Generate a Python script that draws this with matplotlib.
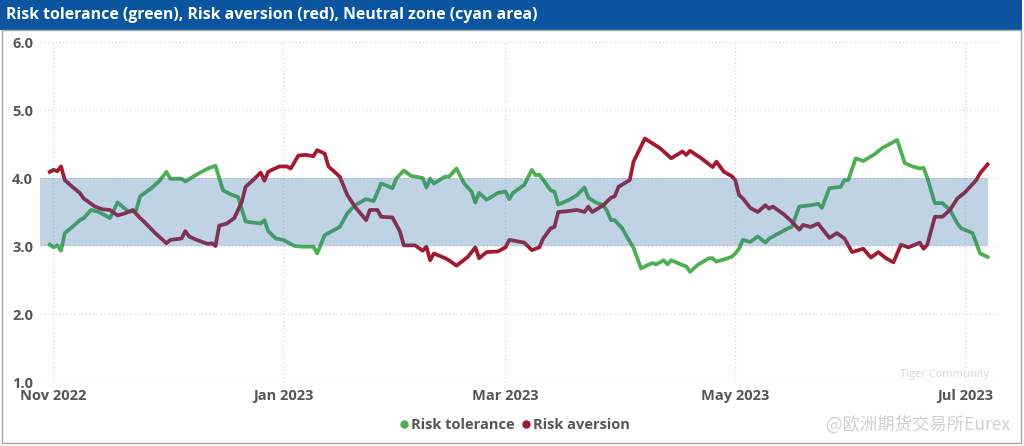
import numpy as np
import pandas as pd
import matplotlib
matplotlib.use('Agg')
import matplotlib.pyplot as plt
import matplotlib.dates as mdates
from matplotlib.patches import Rectangle
from matplotlib.lines import Line2D

# values; x given as days since 2022-11-01
base = pd.Timestamp('2022-11-01')

tol_days = [-1, 0, 1, 2, 3, 5, 7, 8, 10, 12, 15, 17, 20, 22, 23, 26, 28, 30, 31, 34,
            35, 38, 41, 43, 45, 47, 49, 51, 55, 56, 57, 59, 61, 64, 66, 69, 70, 72, 74, 76,
            78, 80, 83, 85, 87, 90, 91, 93, 95, 98, 99, 100, 101, 104, 105, 107, 109, 111, 112, 113,
            115, 118, 120, 121, 122, 125, 127, 128, 129, 132, 133, 134, 137, 139, 141, 142, 144, 146, 147, 148,
            149, 151, 152, 154, 156, 157, 159, 160, 162, 163, 164, 167, 168, 169, 171, 174, 175, 176, 179, 180,
            181, 182, 183, 185, 187, 189, 190, 192, 195, 196, 198, 201, 203, 204, 206, 209, 210, 211, 213, 215,
            218, 220, 224, 226, 228, 230, 231, 232, 234, 236, 238, 240, 241, 244, 245, 246, 248]
tol_vals = [3.02, 2.98, 3.01, 2.93, 3.19, 3.28, 3.38, 3.41, 3.53, 3.50, 3.41, 3.64, 3.50, 3.53, 3.73, 3.85, 3.95, 4.09, 3.99, 3.99,
            3.95, 4.05, 4.14, 4.18, 3.82, 3.76, 3.72, 3.36, 3.33, 3.38, 3.22, 3.11, 3.09, 3.00, 2.99, 2.99, 2.89, 3.16, 3.22, 3.28,
            3.48, 3.60, 3.69, 3.66, 3.92, 3.85, 3.99, 4.11, 4.03, 4.00, 3.86, 3.99, 3.92, 4.02, 4.02, 4.14, 3.92, 3.80, 3.64, 3.78,
            3.68, 3.78, 3.80, 3.69, 3.78, 3.90, 4.12, 4.04, 4.05, 3.82, 3.80, 3.61, 3.68, 3.75, 3.86, 3.71, 3.64, 3.60, 3.51, 3.38,
            3.38, 3.26, 3.16, 2.97, 2.67, 2.70, 2.75, 2.73, 2.79, 2.73, 2.79, 2.72, 2.70, 2.62, 2.72, 2.82, 2.82, 2.77, 2.82, 2.84,
            2.89, 2.96, 3.09, 3.06, 3.14, 3.05, 3.11, 3.17, 3.26, 3.28, 3.58, 3.60, 3.62, 3.56, 3.85, 3.87, 3.97, 3.97, 4.29, 4.25,
            4.35, 4.44, 4.56, 4.22, 4.17, 4.14, 4.15, 4.00, 3.63, 3.63, 3.53, 3.33, 3.26, 3.19, 3.04, 2.89, 2.84]

ave_days = [-1, 0, 1, 2, 3, 5, 7, 8, 11, 13, 15, 17, 19, 21, 23, 24, 27, 30, 31, 34,
            35, 36, 38, 41, 42, 43, 44, 46, 48, 50, 51, 53, 55, 56, 57, 58, 60, 62, 63, 65,
            67, 69, 70, 72, 73, 76, 78, 80, 83, 84, 86, 87, 90, 92, 93, 96, 98, 99, 100, 101,
            104, 105, 107, 110, 112, 113, 115, 118, 120, 121, 125, 127, 129, 130, 132, 133, 134, 136, 139, 141,
            142, 143, 146, 148, 149, 150, 153, 154, 157, 159, 161, 164, 167, 168, 169, 172, 175, 176, 178, 180,
            181, 182, 183, 185, 187, 189, 190, 191, 194, 196, 198, 199, 201, 203, 206, 208, 210, 212, 215, 217,
            219, 221, 223, 225, 227, 230, 231, 232, 234, 236, 238, 240, 242, 243, 245, 246, 248]
ave_vals = [4.09, 4.12, 4.10, 4.17, 3.97, 3.87, 3.78, 3.70, 3.58, 3.54, 3.53, 3.45, 3.48, 3.53, 3.41, 3.36, 3.19, 3.04, 3.09, 3.11,
            3.22, 3.14, 3.09, 3.03, 3.04, 3.00, 3.30, 3.33, 3.41, 3.65, 3.87, 3.97, 4.08, 3.96, 4.09, 4.12, 4.17, 4.17, 4.14, 4.33,
            4.34, 4.32, 4.41, 4.36, 4.17, 4.02, 3.75, 3.58, 3.38, 3.53, 3.53, 3.43, 3.42, 3.21, 3.01, 3.01, 2.93, 2.99, 2.79, 2.89,
            2.82, 2.79, 2.71, 2.84, 2.98, 2.82, 2.91, 2.92, 2.98, 3.09, 3.05, 2.94, 2.98, 3.11, 3.26, 3.28, 3.50, 3.51, 3.53, 3.50,
            3.58, 3.50, 3.60, 3.71, 3.73, 3.87, 3.97, 4.24, 4.58, 4.51, 4.44, 4.29, 4.39, 4.34, 4.40, 4.29, 4.16, 4.24, 4.09, 4.03,
            3.97, 3.75, 3.70, 3.56, 3.50, 3.60, 3.55, 3.58, 3.46, 3.36, 3.24, 3.31, 3.28, 3.33, 3.12, 3.19, 3.11, 2.91, 2.96, 2.83,
            2.91, 2.82, 2.76, 3.02, 2.98, 3.05, 2.96, 3.02, 3.43, 3.43, 3.53, 3.70, 3.79, 3.85, 3.97, 4.07, 4.20]

neutral_low = 3.0
neutral_high = 4.0
band_start = pd.Timestamp('2022-10-28 10:00')

tol_dates = base + pd.to_timedelta(tol_days, unit='D')
ave_dates = base + pd.to_timedelta(ave_days, unit='D')

green = '#4caf50'
red = '#a3192e'
gray = '#555555'

fig = plt.figure(figsize=(10.24, 4.46), dpi=100)
W, H = 1024, 446

# title bar + frame
fig.add_artist(Rectangle((0, 1 - 30 / H), 1022 / W, 30 / H, transform=fig.transFigure,
                         facecolor='#0b55a0', edgecolor='none'))
fig.add_artist(Rectangle((2 / W, 3 / H), 1019 / W, (443 - 30) / H, transform=fig.transFigure,
                         facecolor='none', edgecolor='#a8a8a8', lw=1))
fig.text(6 / W, 1 - 15 / H, 'Risk tolerance (green), Risk aversion (red), Neutral zone (cyan area)',
         color='white', fontsize=11.4, fontweight='bold', family='Open Sans', va='center', ha='left')

ax = fig.add_axes([40 / W, 1 - 382 / H, 960 / W, 340 / H])
ax.plot(tol_dates, tol_vals, color=green, lw=2.7, solid_joinstyle='round', zorder=2)
ax.plot(ave_dates, ave_vals, color=red, lw=2.7, solid_joinstyle='round', zorder=2)

# neutral zone drawn over the lines (semi transparent)
band_end = max(tol_dates[-1], ave_dates[-1])
ax.fill_between([band_start, band_end], neutral_low, neutral_high,
                color='#2f6ea8', alpha=0.3, lw=0, zorder=3)

ax.set_ylim(1, 6)
ax.set_yticks([1, 2, 3, 4, 5, 6])
ax.yaxis.set_major_formatter(plt.FormatStrFormatter('%.1f'))
ax.set_xlim(pd.Timestamp('2022-10-28 10:00'), pd.Timestamp('2023-07-10 07:00'))
ax.xaxis.set_major_locator(mdates.MonthLocator(bymonth=[1, 3, 5, 7, 11]))
ax.xaxis.set_major_formatter(mdates.DateFormatter('%b %Y'))

ax.grid(True, color='#d8d8d8', ls=(0, (1, 2)), lw=0.9, zorder=1)
for s in ax.spines.values():
    s.set_visible(False)
ax.tick_params(axis='both', length=0, labelcolor=gray)
ax.tick_params(axis='y', pad=20)
ax.tick_params(axis='x', pad=5)
for lbl in ax.get_yticklabels():
    lbl.set_horizontalalignment('left')
    lbl.set_fontsize(10.5)
    lbl.set_fontweight('bold')
    lbl.set_family('Open Sans')
for lbl in ax.get_xticklabels():
    lbl.set_fontsize(10.5)
    lbl.set_fontweight('bold')
    lbl.set_family('Open Sans')

handles = [Line2D([], [], marker='o', ls='none', color=green, markersize=5),
           Line2D([], [], marker='o', ls='none', color=red, markersize=5)]
fig.legend(handles, ['Risk tolerance', 'Risk aversion'], loc='center', bbox_to_anchor=(514 / W, 1 - 425 / H),
           ncol=2, frameon=False, handletextpad=0.05, columnspacing=0.4, handlelength=0.8,
           prop={'family': 'Open Sans', 'weight': 'bold', 'size': 10.5}, labelcolor=gray)

# watermark
fig.text(1010 / W, 1 - 425 / H, '@欧洲期货交易所Eurex', color='#d0d0d0', fontsize=12.5,
         family=['Noto Sans CJK SC', 'DejaVu Sans'], ha='right', va='center')
fig.text(900 / W, 1 - 374 / H, 'Tiger Community', color='#d6d6d6', fontsize=8,
         family='Open Sans', ha='left', va='center')

fig.savefig('out.png', dpi=100)
